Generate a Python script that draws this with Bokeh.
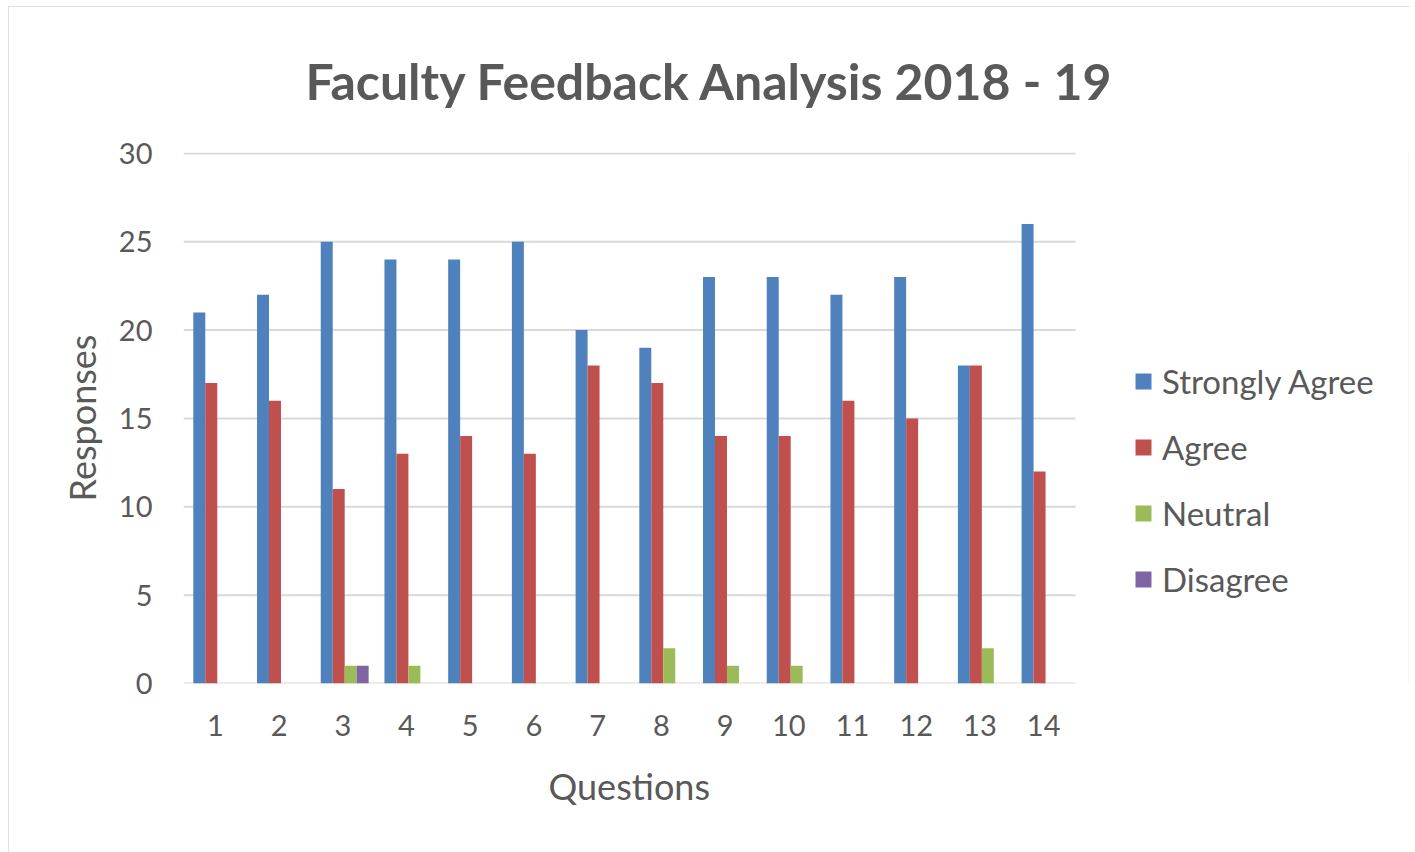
from bokeh.plotting import figure
from bokeh.models import ColumnDataSource, Range1d, FixedTicker, Legend, LegendItem, Title
from bokeh.transform import dodge
from bokeh.embed import file_html
from bokeh.resources import INLINE

questions = list(range(1, 15))
strongly_agree = [21, 22, 25, 24, 24, 25, 20, 19, 23, 23, 22, 23, 18, 26]
agree = [17, 16, 11, 13, 14, 13, 18, 17, 14, 14, 16, 15, 18, 12]
neutral = [0, 0, 1, 1, 0, 0, 0, 2, 1, 1, 0, 0, 2, 0]
disagree = [0, 0, 1, 0, 0, 0, 0, 0, 0, 0, 0, 0, 0, 0]
series_names = ["Strongly Agree", "Agree", "Neutral", "Disagree"]
colors = ["#4F81BD", "#C0504D", "#9BBB59", "#8064A2"]
y_ticks = [0, 5, 10, 15, 20, 25, 30]

source = ColumnDataSource(dict(q=questions, sa=strongly_agree, a=agree, n=neutral, d=disagree))

FONT = "Lato"
TXT = "#595959"
GRID = "#D9D9D9"

# frame spans the legend area too; categories occupy 0.5..14.5 (183..1075 px)
x_lo, x_hi = 0.5, 14.5
x_end = x_lo + (1408 - 183) / ((1075 - 183) / 14.0)

p = figure(width=1402, height=846, output_backend="svg", toolbar_location=None,
           x_range=Range1d(x_lo, x_end), y_range=Range1d(0, 30.05),
           min_border_left=175, min_border_right=2, min_border_top=146, min_border_bottom=169,
           title="Faculty Feedback Analysis 2018 - 19")
p.margin = (6, 0, 0, 8)
p.styles = {"outline": "3px solid #D9D9D9", "outline-offset": "-3px"}
p.outline_line_color = None
p.border_fill_color = "white"

# horizontal gridlines limited to the category area
p.segment(x0=[x_lo] * len(y_ticks), x1=[x_hi] * len(y_ticks), y0=y_ticks, y1=y_ticks,
          line_color=GRID, line_width=2)

w = 0.188
cols = ["sa", "a", "n", "d"]
offs = [-1.5 * w, -0.5 * w, 0.5 * w, 1.5 * w]
renderers = []
for c, o, col in zip(cols, offs, colors):
    r = p.vbar(x=dodge("q", o + 0.03), top=c, width=w, source=source, fill_color=col, line_color=None)
    renderers.append(r)

legend = Legend(items=[LegendItem(label=n, renderers=[r]) for n, r in zip(series_names, renderers)],
                location=(950, 84))
legend.border_line_color = None
legend.background_fill_alpha = 0
legend.label_text_font = FONT
legend.label_text_font_size = "33px"
legend.label_text_color = TXT
legend.glyph_width = 20
legend.glyph_height = 20
legend.label_standoff = 9
legend.label_height = 30
legend.spacing = 26
legend.padding = 0
legend.margin = 0
p.add_layout(legend, "center")

p.title.text_font = FONT
p.title.text_font_size = "50px"
p.title.text_font_style = "bold"
p.title.text_color = TXT
p.title.align = "left"
p.title.offset = 122
p.title.standoff = 84

xlabel = Title(text="Questions", align="left", offset=365, text_font=FONT,
               text_font_size="36px", text_font_style="normal", text_color=TXT, standoff=46)
p.add_layout(xlabel, "below")

p.xgrid.grid_line_color = None
p.ygrid.grid_line_color = None
p.yaxis.ticker = FixedTicker(ticks=y_ticks)
p.xaxis.ticker = FixedTicker(ticks=questions)

for ax in (p.xaxis, p.yaxis):
    ax.major_tick_line_color = None
    ax.minor_tick_line_color = None
    ax.axis_line_color = None
    ax.major_label_text_font = FONT
    ax.major_label_text_font_size = "29px"
    ax.major_label_text_color = TXT
    ax.axis_label_text_font = FONT
    ax.axis_label_text_font_size = "36px"
    ax.axis_label_text_color = TXT
    ax.axis_label_text_font_style = "normal"

p.yaxis.major_label_standoff = 25
p.xaxis.major_label_standoff = 25
p.yaxis.axis_label = "Responses"
p.yaxis.axis_label_standoff = 12

open("out.html", "w").write(file_html(p, INLINE))
